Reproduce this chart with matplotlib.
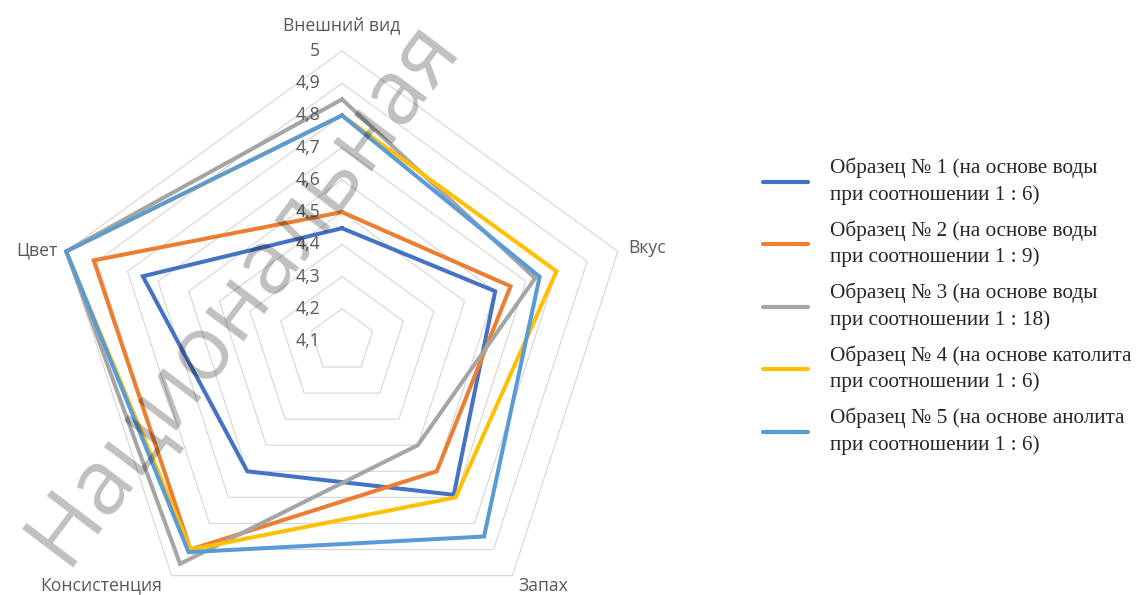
import numpy as np
import matplotlib
matplotlib.use("Agg")
import matplotlib.pyplot as plt
from matplotlib.lines import Line2D

categories = ['Внешний вид', 'Вкус', 'Запах', 'Консистенция', 'Цвет']
s1 = [4.45, 4.60, 4.69, 4.60, 4.75]
s2 = [4.50, 4.65, 4.60, 4.90, 4.91]
s3 = [4.85, 4.73, 4.50, 4.955, 5.00]
s4 = [4.80, 4.80, 4.70, 4.90, 5.00]
s5 = [4.80, 4.745, 4.85, 4.91, 5.00]
series = [s1, s2, s3, s4, s5]
series_names = [
    ('Образец № 1 (на основе воды', 'при соотношении 1 : 6)'),
    ('Образец № 2 (на основе воды', 'при соотношении 1 : 9)'),
    ('Образец № 3 (на основе воды', 'при соотношении 1 : 18)'),
    ('Образец № 4 (на основе католита', 'при соотношении 1 : 6)'),
    ('Образец № 5 (на основе анолита', 'при соотношении 1 : 6)'),
]
colors = ['#4472C4', '#ED7D31', '#A5A5A5', '#FFC000', '#5B9BD5']
ticks = [4.1, 4.2, 4.3, 4.4, 4.5, 4.6, 4.7, 4.8, 4.9, 5.0]
tick_labels = ['4,1', '4,2', '4,3', '4,4', '4,5', '4,6', '4,7', '4,8', '4,9', '5']
rmin, rmax = 4.1, 5.0

W, H = 1141, 595
fig = plt.figure(figsize=(W / 100, H / 100), dpi=100)
fig.patch.set_facecolor('white')

cx, cy, R = 342, 341, 290
ax = fig.add_axes([(cx - R) / W, (H - cy - R) / H, 2 * R / W, 2 * R / H], projection='polar')
ax.set_theta_offset(np.pi / 2)
ax.set_theta_direction(-1)
ax.set_ylim(rmin, rmax)
ax.set_xticks([])
ax.set_yticks([])
ax.grid(False)
ax.spines['polar'].set_visible(False)
ax.patch.set_visible(False)

n = len(categories)
angles = np.linspace(0, 2 * np.pi, n, endpoint=False)
ang_closed = np.concatenate([angles, angles[:1]])

# pentagon grid rings
for t in ticks[1:]:
    ax.plot(ang_closed, [t] * (n + 1), color='#D9D9D9', lw=0.9, zorder=1, clip_on=False)

for vals, c in zip(series, colors):
    v = list(vals) + [vals[0]]
    ax.plot(ang_closed, v, color=c, lw=2.9, zorder=3, clip_on=False,
            solid_joinstyle='miter')

label_font = dict(family=['Open Sans', 'DejaVu Sans'], size=12.7, color='#595959')

# radial tick labels
for t, lab in zip(ticks, tick_labels):
    ax.annotate(lab, xy=(0, t), xycoords='data', xytext=(-22, 0),
                textcoords='offset pixels', ha='right', va='center', **label_font)

# category labels
offsets = [((0, 26), 'center', 'center'),
           ((10, 3), 'left', 'center'),
           ((6, -10), 'left', 'center'),
           ((-9, -10), 'right', 'center'),
           ((-9, 1), 'right', 'center')]
for a, cat, (off, ha, va) in zip(angles, categories, offsets):
    ax.annotate(cat, xy=(a, rmax), xycoords='data', xytext=off,
                textcoords='offset pixels', ha=ha, va=va, annotation_clip=False, **label_font)

# legend (manual)
leg_y = [181.7, 244.3, 306.7, 369.3, 432.0]
leg_font = dict(family=['Liberation Serif', 'DejaVu Serif'], size=15.3, color='#262626')
for (l1, l2), c, y in zip(series_names, colors, leg_y):
    fig.add_artist(Line2D([763 / W, 808 / W], [1 - y / H, 1 - y / H], color=c, lw=3.0,
                          solid_capstyle='round', transform=fig.transFigure))
    fig.text(830 / W, 1 - (y - 8.5) / H, l1, ha='left', va='baseline', **leg_font)
    fig.text(830 / W, 1 - (y + 18) / H, l2, ha='left', va='baseline', **leg_font)

# watermark
wm = 'Национальная'
target_len = 655.0
tmp = fig.text(0, 0, wm, family=['Open Sans', 'DejaVu Sans'], size=70)
renderer = fig.canvas.get_renderer()
w0 = tmp.get_window_extent(renderer).width
tmp.remove()
fs = 70 * target_len / w0
fig.text(243 / W, 1 - 292 / H, wm, family=['Open Sans', 'DejaVu Sans'], size=fs,
         rotation=53, rotation_mode='anchor', ha='center', va='center',
         color='black', alpha=0.25, zorder=10)

fig.savefig('out.png', dpi=100, facecolor='white')
